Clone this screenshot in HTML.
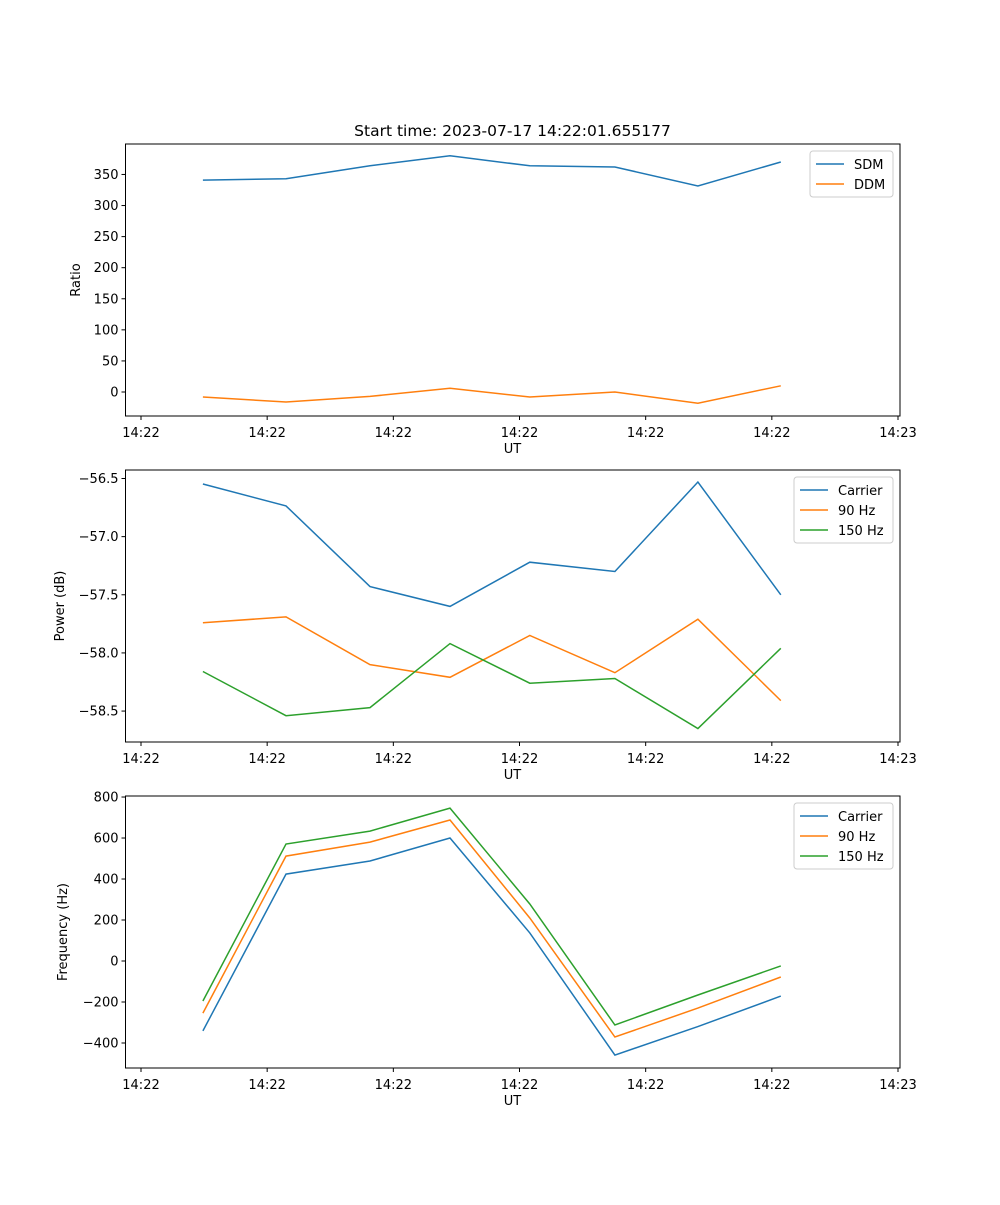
<!DOCTYPE html>
<html><head><meta charset="utf-8"><style>
body{margin:0;background:#fff}
svg text{font-family:"DejaVu Sans","Liberation Sans",sans-serif;font-size:13px;fill:#000}
</style></head><body>
<svg id="fig" width="1000" height="1200" xmlns="http://www.w3.org/2000/svg">
<text x="512.5" y="136" text-anchor="middle" style="font-size:15.5px">Start time: 2023-07-17 14:22:01.655177</text>
</svg>
<script>
const times = [4.91, 11.49, 18.15, 24.49, 30.82, 37.56, 44.14, 50.71];
const xTicks = [0, 10, 20, 30, 40, 50, 60];
const xTickLabels = ["14:22","14:22","14:22","14:22","14:22","14:22","14:23"];
const sdm = [341, 343, 364, 380, 364, 362, 331.5, 370];
const ddm = [-8, -16, -7, 6, -8, 0, -18, 10];
const pCarrier = [-56.547, -56.736, -57.43, -57.60, -57.22, -57.30, -56.53, -57.50];
const p90 = [-57.74, -57.69, -58.10, -58.21, -57.85, -58.17, -57.71, -58.41];
const p150 = [-58.16, -58.54, -58.47, -57.92, -58.26, -58.22, -58.65, -57.96];
const fCarrier = [-341, 424, 488, 600, 137, -459, -320, -171];
const f90 = [-254, 512, 580, 688, 210, -371, -230, -78];
const f150 = [-195, 571, 634, 746, 278, -312, -166, -24];
const ratioTicks = [0,50,100,150,200,250,300,350];
const powerTicks = [-58.5,-58.0,-57.5,-57.0,-56.5];
const freqTicks = [-400,-200,0,200,400,600,800];

const svg = document.getElementById('fig');
const NS = 'http://www.w3.org/2000/svg';
function mk(tag, attrs){const e=document.createElementNS(NS,tag);for(const k in attrs)e.setAttribute(k,attrs[k]);svg.appendChild(e);return e;}
const X0=125.5, X1=900;
const xs = t => 141 + t*(898-141)/60;
const colors={blue:'#1f77b4',orange:'#ff7f0e',green:'#2ca02c'};

function panel(name, top, bot, ymin, ymax, yTicks, fmt, ylabel, ylabelX, series, legW){
  const ys = v => bot - (v-ymin)/(ymax-ymin)*(bot-top);
  const frame = mk('rect',{x:X0,y:top,width:X1-X0,height:bot-top,fill:'none',stroke:'#000','stroke-width':1});
  
  
  xTicks.forEach((t,i)=>{
    const l=mk('line',{x1:xs(t),x2:xs(t),y1:bot,y2:bot+4,stroke:'#000'});
    
    
    const tx=mk('text',{x:xs(t),y:bot+21,'text-anchor':'middle'});tx.textContent=xTickLabels[i];
    
    
  });
  yTicks.forEach(v=>{
    const l=mk('line',{x1:X0-4,x2:X0,y1:ys(v),y2:ys(v),stroke:'#000'});
    
    
    const tx=mk('text',{x:X0-7,y:ys(v)+4.5,'text-anchor':'end'});tx.textContent=fmt(v);
    
    
  });
  const xl=mk('text',{x:512.5,y:bot+37,'text-anchor':'middle'});xl.textContent='UT';
  
  
  const cy=(top+bot)/2;
  const yl=mk('text',{x:ylabelX,y:cy,'text-anchor':'middle',transform:`rotate(-90 ${ylabelX} ${cy})`});yl.textContent=ylabel;
  
  
  series.forEach(s=>{
    const pts=s.vals.map((v,i)=>xs(times[i]).toFixed(1)+','+ys(v).toFixed(1)).join(' ');
    const pl=mk('polyline',{points:pts,fill:'none',stroke:s.color,'stroke-width':1.5});
    
    
  });
  const lx=X1-7-legW, ly=top+7, lh=6+series.length*20;
  const lb=mk('rect',{x:lx,y:ly,width:legW,height:lh,rx:3,fill:'#fff',stroke:'#ccc'});
  
  
  series.forEach((s,i)=>{
    const yy=ly+13+i*20;
    const l=mk('line',{x1:lx+6,x2:lx+34,y1:yy,y2:yy,stroke:s.color,'stroke-width':1.5});
    
    
    const tx=mk('text',{x:lx+44,y:yy+5});tx.textContent=s.label;
    
    
  });
}
panel('ratio',144,416,-38.6,399,ratioTicks,v=>String(v),'Ratio',80,
  [{key:'sdm',label:'SDM',vals:sdm,color:colors.blue},{key:'ddm',label:'DDM',vals:ddm,color:colors.orange}],83);
panel('power',470,742,-58.766,-56.427,powerTicks,v=>'\u2212'+Math.abs(v).toFixed(1),'Power (dB)',64,
  [{key:'carrier',label:'Carrier',vals:pCarrier,color:colors.blue},{key:'90hz',label:'90 Hz',vals:p90,color:colors.orange},{key:'150hz',label:'150 Hz',vals:p150,color:colors.green}],99);
panel('frequency',796,1068,-522,805,freqTicks,v=>v<0?'\u2212'+Math.abs(v):String(v),'Frequency (Hz)',67,
  [{key:'carrier',label:'Carrier',vals:fCarrier,color:colors.blue},{key:'90hz',label:'90 Hz',vals:f90,color:colors.orange},{key:'150hz',label:'150 Hz',vals:f150,color:colors.green}],99);
</script>
</body></html>
